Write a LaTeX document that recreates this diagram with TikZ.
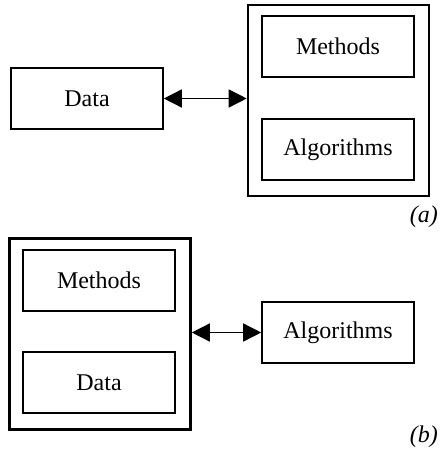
\documentclass[tikz,border=0pt]{standalone}
\usepackage{fontspec}
\setmainfont{Liberation Serif}
\usetikzlibrary{arrows.meta}

\tikzset{
box/.style={draw,line width=.8pt,minimum width=76pt,minimum height=30.5pt,inner sep=0pt,font=\fontsize{12}{14}\selectfont},
outer/.style={draw,line width=1.3pt,minimum width=90.5pt,minimum height=95.5pt,inner sep=0pt},
link/.style={line width=.75pt,{Triangle[length=9pt,width=9pt]}-{Triangle[length=9pt,width=9pt]}}
}

\begin{document}
\begin{tikzpicture}[x=.5pt,y=-.5pt]
\useasboundingbox (0,0) rectangle (440,449);

% (a)
\node[box] (dataA) at (87,98.5) {Data};
\node[outer] (groupA) at (338.5,100.5) {};
\node[box] (methodsA) at (338,46.5) {Methods};
\node[box] (algA) at (338,149.5) {Algorithms};
\draw[link] (dataA.east) -- (dataA.east -| groupA.west);
\node[anchor=east,font=\fontsize{12}{14}\selectfont\itshape] (labA) at (445,217) {(a)};

% (b)
\node[outer] (groupB) at (100,334) {};
\node[box] (methodsB) at (99,280.5) {Methods};
\node[box] (dataB) at (99,382.5) {Data};
\node[box] (algB) at (338,332.5) {Algorithms};
\draw[link] (algB.west -| groupB.east) -- (algB.west);
\node[anchor=east,font=\fontsize{12}{14}\selectfont\itshape] (labB) at (445,437) {(b)};

\end{tikzpicture}
\end{document}
